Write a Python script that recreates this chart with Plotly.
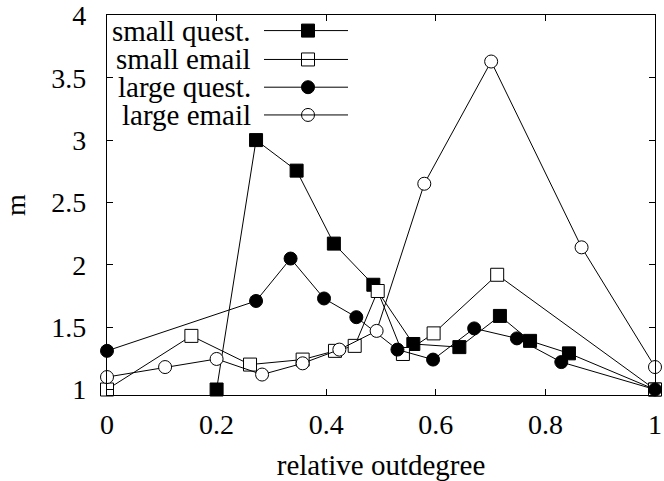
import plotly.graph_objects as go

# ---- data ----
x_small_quest = [0.200, 0.272, 0.346, 0.414, 0.486, 0.559, 0.643, 0.717, 0.772, 0.843, 1.000]
y_small_quest = [1.00, 3.00, 2.755, 2.17, 1.84, 1.365, 1.34, 1.59, 1.39, 1.29, 1.00]

x_small_email = [0.000, 0.154, 0.261, 0.357, 0.416, 0.452, 0.494, 0.540, 0.596, 0.712, 1.000]
y_small_email = [1.00, 1.43, 1.20, 1.24, 1.31, 1.35, 1.79, 1.285, 1.45, 1.92, 1.00]

x_large_quest = [0.000, 0.272, 0.335, 0.396, 0.455, 0.530, 0.595, 0.670, 0.748, 0.829, 1.000]
y_large_quest = [1.31, 1.71, 2.05, 1.73, 1.58, 1.32, 1.24, 1.49, 1.41, 1.22, 1.00]

x_large_email = [0.000, 0.106, 0.200, 0.283, 0.357, 0.424, 0.492, 0.579, 0.701, 0.866, 1.000]
y_large_email = [1.10, 1.18, 1.245, 1.12, 1.21, 1.32, 1.47, 2.65, 3.63, 2.14, 1.18]

series_names = ["small quest.", "small email", "large quest.", "large email"]
series_x = [x_small_quest, x_small_email, x_large_quest, x_large_email]
series_y = [y_small_quest, y_small_email, y_large_quest, y_large_email]
series_symbol = ["square", "square", "circle", "circle"]
series_fill = ["black", "white", "black", "white"]

x_ticks = [0, 0.2, 0.4, 0.6, 0.8, 1]
x_ticklabels = ["0", "0.2", "0.4", "0.6", "0.8", "1"]
y_ticks = [1, 1.5, 2, 2.5, 3, 3.5, 4]
y_ticklabels = ["1", "1.5", "2", "2.5", "3", "3.5", "4"]

FONT = "Liberation Serif, Times New Roman, serif"
FS = 28
MS = 13

fig = go.Figure()

for name, xs, ys, sym, fill in zip(series_names, series_x, series_y, series_symbol, series_fill):
    fig.add_trace(go.Scatter(
        x=xs, y=ys, mode="lines+markers", name=name, showlegend=False,
        line=dict(color="black", width=1),
        marker=dict(symbol=sym, size=MS, color=fill, line=dict(color="black", width=1)),
        cliponaxis=False,
    ))

# ---- gnuplot-style key (text on the left, sample on the right) ----
key_text_x = 0.266
key_line_x0, key_line_x1, key_mark_x = 0.2865, 0.4398, 0.3668
key_rows_y = [0.959, 0.883, 0.810, 0.737]

for name, ky, sym, fill in zip(series_names, key_rows_y, series_symbol, series_fill):
    fig.add_annotation(
        x=key_text_x, y=ky, xref="paper", yref="paper", text=name,
        showarrow=False, xanchor="right", yanchor="middle",
        font=dict(family=FONT, size=29, color="black"),
    )
    fig.add_shape(type="line", xref="paper", yref="paper",
                  x0=key_line_x0, x1=key_line_x1, y0=ky, y1=ky,
                  line=dict(color="black", width=1))
    fig.add_trace(go.Scatter(
        x=[key_mark_x], y=[ky], xaxis="x2", yaxis="y2", mode="markers",
        showlegend=False, hoverinfo="skip",
        marker=dict(symbol=sym, size=MS, color=fill, line=dict(color="black", width=1)),
    ))

axis_common = dict(
    showgrid=False, zeroline=False, showline=True, linecolor="black", linewidth=1.2,
    mirror="ticks", ticks="inside", ticklen=6, tickcolor="black", tickwidth=1,
    tickfont=dict(family=FONT, size=FS, color="black"), automargin=False,
)

fig.update_layout(
    width=664, height=481,
    margin=dict(l=107, r=9, t=15, b=86),
    paper_bgcolor="white", plot_bgcolor="white",
    font=dict(family=FONT, size=FS, color="black"),
    xaxis=dict(range=[0, 1], tickvals=x_ticks, ticktext=x_ticklabels,
               title=dict(text="relative outdegree", font=dict(family=FONT, size=29), standoff=26),
               ticklabelstandoff=4, **axis_common),
    yaxis=dict(range=[0.956, 4.003], tickvals=y_ticks, ticktext=y_ticklabels,
               title=dict(text="m", font=dict(family=FONT, size=FS), standoff=38),
               ticklabelstandoff=14, **axis_common),
    xaxis2=dict(range=[0, 1], overlaying="x", visible=False, fixedrange=True),
    yaxis2=dict(range=[0, 1], overlaying="y", visible=False, fixedrange=True),
)

# remove the default page margin so the figure sits at the window's top-left corner
fig.write_html("out.html",
               config={"displayModeBar": False},
               post_script="document.body.style.margin='0px';document.body.style.overflow='hidden';")
